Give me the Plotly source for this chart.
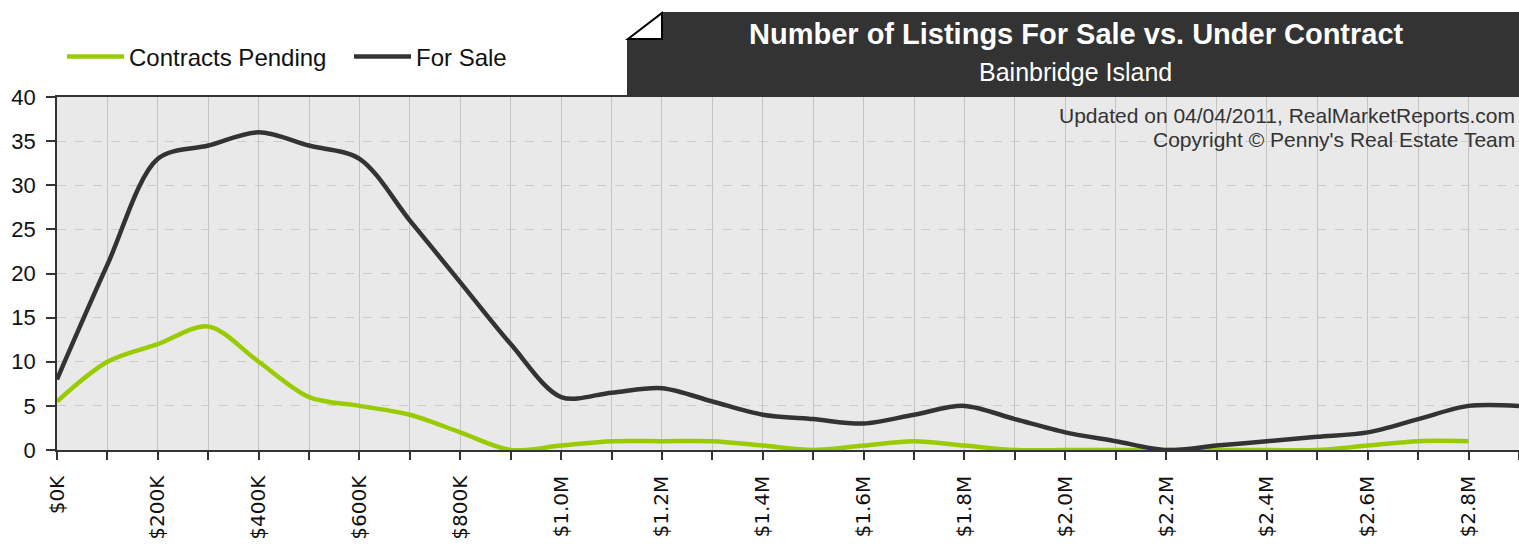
import plotly.graph_objects as go

# ---- data ----
categories = ["$0K", "$100K", "$200K", "$300K", "$400K", "$500K", "$600K", "$700K", "$800K", "$900K",
              "$1.0M", "$1.1M", "$1.2M", "$1.3M", "$1.4M", "$1.5M", "$1.6M", "$1.7M", "$1.8M", "$1.9M",
              "$2.0M", "$2.1M", "$2.2M", "$2.3M", "$2.4M", "$2.5M", "$2.6M", "$2.7M", "$2.8M", "$2.9M"]
contracts_pending = [5.5, 10, 12, 14, 10, 6, 5, 4, 2, 0,
                     0.5, 1, 1, 1, 0.5, 0, 0.5, 1, 0.5, 0,
                     0, 0, 0, 0, 0, 0, 0.5, 1, 1, None]
for_sale = [8, 21, 33, 34.5, 36, 34.5, 33, 26, 19, 12,
            6, 6.5, 7, 5.5, 4, 3.5, 3, 4, 5, 3.5,
            2, 1, 0, 0.5, 1, 1.5, 2, 3.5, 5, 5]
y_ticks = [0, 5, 10, 15, 20, 25, 30, 35, 40]
title_text = "Number of Listings For Sale vs. Under Contract"
subtitle_text = "Bainbridge Island"
note_lines = ["Updated on 04/04/2011, RealMarketReports.com", "Copyright © Penny's Real Estate Team"]

W, H = 1519, 544
ML, MR, MT, MB = 57, 0, 97, 94
PW, PH = W - ML - MR, H - MT - MB

def px(x):  # pixel x -> paper
    return (x - ML) / PW

def py(y):  # pixel y -> paper
    return (H - MB - y) / PH

idx = list(range(len(categories)))
tick_text = [c if i % 2 == 0 else "" for i, c in enumerate(categories)]

GREEN = "#99cc00"
DARK = "#333333"

fig = go.Figure()
fig.add_trace(go.Scatter(x=idx, y=contracts_pending, name="Contracts Pending", mode="lines",
                         line=dict(color=GREEN, width=4.5, shape="spline", smoothing=0.9)))
fig.add_trace(go.Scatter(x=idx, y=for_sale, name="For Sale", mode="lines",
                         line=dict(color=DARK, width=4.5, shape="spline", smoothing=0.9)))

# title box with folded corner
box_path = (f"M{px(627)},{py(39)} L{px(662)},{py(12)} L{px(1519)},{py(12)} "
            f"L{px(1519)},{py(97)} L{px(627)},{py(97)} Z")
corner_path = f"M{px(628)},{py(39)} L{px(662)},{py(13)} L{px(662)},{py(39)} Z"
shapes = [
    dict(type="path", xref="paper", yref="paper", path=box_path,
         fillcolor=DARK, line=dict(width=0), layer="above"),
    dict(type="path", xref="paper", yref="paper", path=corner_path,
         fillcolor="white", line=dict(color="black", width=2), layer="above"),
]

annotations = [
    dict(text=f"<b>{title_text}</b>", x=px(1076), y=py(34), xref="paper", yref="paper",
         showarrow=False, font=dict(family="Liberation Sans", size=29, color="white"),
         xanchor="center", yanchor="middle"),
    dict(text=subtitle_text, x=px(1075), y=py(72), xref="paper", yref="paper",
         showarrow=False, font=dict(family="Liberation Sans", size=25, color="white"),
         xanchor="center", yanchor="middle"),
    dict(text=note_lines[0], x=px(1517), y=py(116), xref="paper", yref="paper",
         showarrow=False, font=dict(family="Liberation Sans", size=21, color="#333333"),
         xanchor="right", yanchor="middle"),
    dict(text=note_lines[1], x=px(1517), y=py(139), xref="paper", yref="paper",
         showarrow=False, font=dict(family="Liberation Sans", size=21, color="#333333"),
         xanchor="right", yanchor="middle"),
]

fig.update_layout(
    width=W, height=H,
    margin=dict(l=ML, r=MR, t=MT, b=MB, pad=0),
    paper_bgcolor="white", plot_bgcolor="#e9e9e9",
    font=dict(family="Liberation Sans", size=20, color="#111111"),
    showlegend=True,
    legend=dict(orientation="h", x=px(62), y=py(57), xanchor="left", yanchor="middle",
                font=dict(family="Liberation Sans", size=24, color="#111111"),
                bgcolor="rgba(0,0,0,0)", itemwidth=57, entrywidth=215, traceorder="normal"),
    shapes=shapes, annotations=annotations,
    xaxis=dict(range=[0, len(categories) - 1], tickmode="array", tickvals=idx, ticktext=tick_text,
               tickangle=-90, ticks="outside", ticklen=8, tickcolor="#333333", tickwidth=1.5,
               showline=True, linecolor="#333333", linewidth=1.5, mirror=True,
               showgrid=True, gridcolor="#c4c4c4", gridwidth=1, zeroline=False,
               automargin=False, fixedrange=True, ticklabelstandoff=8,
               tickfont=dict(family="DejaVu Sans", size=20, color="#111111")),
    yaxis=dict(range=[0, 40], tickmode="array", tickvals=y_ticks,
               ticks="outside", ticklen=9, tickcolor="#333333", tickwidth=1.5,
               showline=True, linecolor="#333333", linewidth=1.5,
               showgrid=True, gridcolor="#cccccc", griddash="dash", gridwidth=1, zeroline=False,
               automargin=False, ticklabelstandoff=6,
               tickfont=dict(family="Liberation Sans", size=22, color="#111111")),
)

fig.write_html("out.html")
